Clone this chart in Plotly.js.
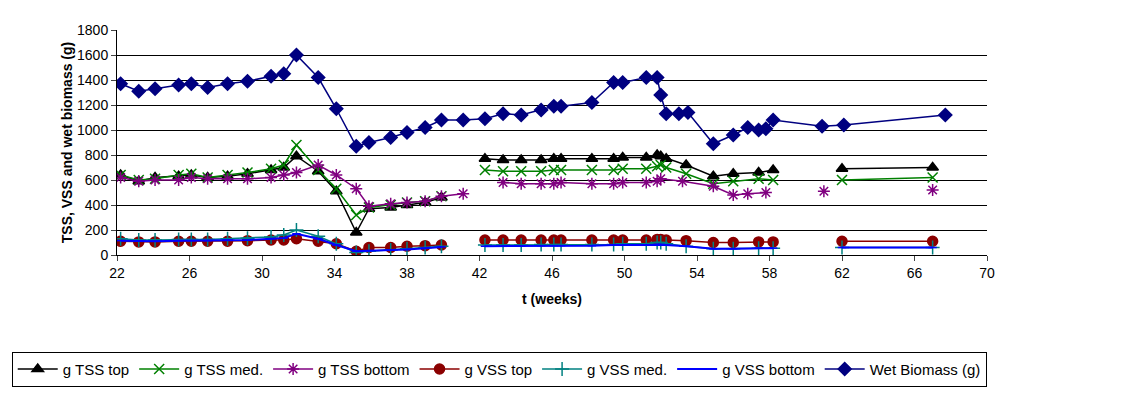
<!DOCTYPE html>
<html><head><meta charset="utf-8">
<script src="https://cdn.plot.ly/plotly-3.0.1.min.js"></script>
</head><body style="margin:0">
<div id="chart" style="width:1137px;height:401px"></div>
<script>
// weeks, first block (22-40)
const xA = [22.2, 23.2, 24.1, 25.4, 26.1, 27.0, 28.1, 29.2, 30.5, 31.2, 31.9, 33.1, 34.1, 35.2, 35.9, 37.1, 38.0, 39.0, 39.9];
// second block (42-52) and later points
const xB = [42.3, 43.3, 44.3, 45.4, 46.1, 46.5, 48.2, 49.4, 49.9, 51.2, 51.8, 52.0, 52.3];
const xC = [53.4, 54.9, 56.0, 57.4, 58.2];
const xD = [62.0, 67.0];

const tssTop = [640, 590, 620, 630, 640, 620, 630, 650, 680, 700, 790, 670, 510, 180, 370, 380, 400, 420, 460];
const tssTopB = [770, 760, 760, 760, 770, 770, 770, 770, 780, 780, 800, 790, 770];
const tssTopC = [720, 630, 650, 660, 680];
const tssTopD = [690, 700];

const tssMed = [640, 600, 610, 640, 650, 620, 640, 660, 690, 720, 880, 680, 530, 320, 380, 400, 420, 430, 470];
const tssMedB = [680, 670, 670, 670, 680, 680, 680, 680, 690, 690, 710, 720, 700];
const tssMedC = [650, 570, 590, 610, 600];
const tssMedD = [600, 620];

const xBot = [22.2, 23.2, 24.1, 25.4, 26.1, 27.0, 28.1, 29.2, 30.5, 31.2, 31.9, 33.1, 34.1, 35.2, 35.9, 37.1, 38.0, 39.0, 39.9, 41.1,
              null, 43.3, 44.3, 45.4, 46.1, 46.5, 48.2, 49.4, 49.9, 51.2, 51.8, 52.0, 53.2, 54.9, 56.0, 56.8, 57.8, null, 61.0, null, 67.0];
const tssBot = [620, 590, 600, 600, 620, 610, 610, 610, 620, 640, 660, 720, 640, 530, 390, 410, 420, 430, 470, 490,
                null, 580, 570, 570, 570, 580, 570, 570, 580, 580, 590, 610, 590, 550, 480, 490, 500, null, 510, null, 520];

const vssTop = [110, 105, 105, 110, 110, 110, 110, 115, 120, 120, 130, 110, 90, 30, 60, 60, 70, 75, 80];
const vssTopB = [120, 120, 120, 120, 120, 120, 120, 120, 120, 120, 125, 125, 120];
const vssTopC = [115, 100, 100, 105, 105];
const vssTopD = [110, 110];

const vssMed = [130, 120, 120, 125, 125, 125, 130, 135, 145, 160, 200, 150, 90, 20, 30, 40, 50, 60, 70];
const vssMedB = [80, 80, 80, 85, 85, 85, 85, 85, 90, 90, 100, 100, 90];
const vssMedC = [70, 50, 50, 55, 55];
const vssMedD = [60, 60];

const vssBot = [115, 110, 110, 115, 115, 115, 120, 120, 130, 135, 170, 130, 80, 30, 35, 40, 45, 55, 65];
const vssBotB = [70, 70, 70, 75, 75, 75, 75, 80, 80, 80, 85, 85, 80];
const vssBotC = [70, 50, 50, 55, 55];
const vssBotD = [60, 60];

const xBioLate = [41.1, 42.3, 43.3, 44.3, 45.4, 46.1, 46.5, 48.2, 49.4, 49.9, 51.2, 51.8, 52.0, 52.3,
                  53.0, 53.5, 54.9, 56.0, 56.8, 57.4, 57.8, 58.2, 60.9, 62.1, 67.7];
const xBio = xA.concat(xBioLate);
const wetBio = [1370, 1310, 1330, 1360, 1370, 1340, 1370, 1390, 1430, 1450, 1600, 1420, 1170, 870, 900, 940, 980, 1020, 1080,
                1080, 1090, 1130, 1120, 1160, 1190, 1190, 1220, 1380, 1380, 1420, 1420, 1280, 1130,
                1130, 1140, 890, 960, 1020, 1000, 1010, 1080, 1030, 1040, 1120];

function join(a, b, c, d) {
  return [].concat(a, [null], b, c, [null], d);
}
const xJ = join(xA, xB, xC, xD);

function tr(name, x, y, color, symbol, size, lw) {
  return {x: x, y: y, name: name, type: 'scatter', mode: 'lines+markers', connectgaps: false,
          line: {color: color, width: lw || 1.5},
          marker: {symbol: symbol, size: size, color: color, line: {color: color, width: 1.5}}};
}

const data = [
  tr('g TSS top', xJ, join(tssTop, tssTopB, tssTopC, tssTopD), 'black', 'triangle-up', 10),
  tr('g TSS med.', xJ, join(tssMed, tssMedB, tssMedC, tssMedD), 'green', 'x-thin', 10),
  tr('g TSS bottom', xBot, tssBot, 'purple', 'asterisk', 10),
  tr('g VSS top', xJ, join(vssTop, vssTopB, vssTopC, vssTopD), '#8b0000', 'circle', 10),
  tr('g VSS med.', xJ, join(vssMed, vssMedB, vssMedC, vssMedD), 'teal', 'cross-thin', 10),
  tr('g VSS bottom', xJ, join(vssBot, vssBotB, vssBotC, vssBotD), 'blue', 'line-ew', 6, 2),
  tr('Wet Biomass (g)', xBio, wetBio, '#000080', 'diamond', 10)
];

const layout = {
  width: 1137, height: 401,
  margin: {l: 114, r: 150, t: 30, b: 146},
  paper_bgcolor: 'white', plot_bgcolor: 'white',
  font: {family: 'Liberation Sans, Arial, sans-serif', size: 14, color: 'black'},
  xaxis: {range: [22, 70], tickvals: [22, 26, 30, 34, 38, 42, 46, 50, 54, 58, 62, 66, 70], showgrid: false,
          zeroline: false, showline: true, linecolor: 'black', ticks: 'outside', ticklen: 5,
          title: {text: '<b>t (weeks)</b>', font: {size: 14}, standoff: 14}},
  yaxis: {range: [0, 1800], dtick: 200, showgrid: true, gridcolor: 'black', gridwidth: 1,
          zeroline: false, showline: true, linecolor: 'black', ticks: 'outside', ticklen: 5,
          title: {text: '<b>TSS, VSS and wet biomass (g)</b>', font: {size: 14}}},
  showlegend: true,
  legend: {orientation: 'h', x: -0.121, xanchor: 'left', y: -0.43, yanchor: 'top',
           bordercolor: 'black', borderwidth: 1, font: {size: 15}, itemwidth: 40, tracegroupgap: 0}
};
Plotly.newPlot('chart', data, layout, {displayModeBar: false});
</script>
</body></html>
